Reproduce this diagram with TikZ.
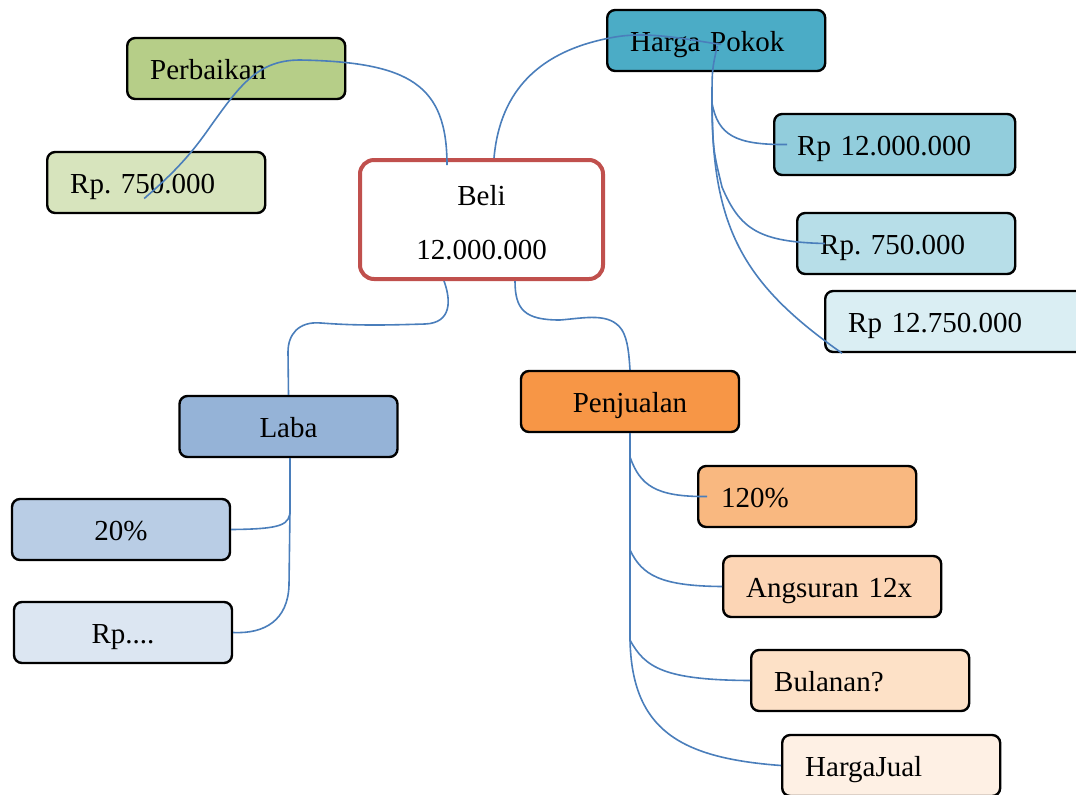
\documentclass[tikz,border=0pt]{standalone}
\usepackage{fontspec}
\setmainfont{Liberation Serif}
\usepackage{tikz}
\frenchspacing
\definecolor{linkblue}{HTML}{4A7EBB}
\definecolor{belired}{HTML}{C0504D}
\definecolor{perbgreen}{HTML}{B6CE88}
\definecolor{rpgreen}{HTML}{D7E4BD}
\definecolor{hpblue}{HTML}{4BACC6}
\definecolor{rpblueA}{HTML}{92CDDC}
\definecolor{rpblueB}{HTML}{B7DEE8}
\definecolor{rpblueC}{HTML}{DAEEF3}
\definecolor{labablue}{HTML}{95B3D7}
\definecolor{labablueA}{HTML}{B9CDE5}
\definecolor{labablueB}{HTML}{DCE6F2}
\definecolor{penjorange}{HTML}{F79646}
\definecolor{orangeA}{HTML}{F9B880}
\definecolor{orangeB}{HTML}{FCD5B5}
\definecolor{orangeC}{HTML}{FDE1C7}
\definecolor{orangeD}{HTML}{FEF0E4}

\tikzset{
  box/.style={draw=black,line width=1.2pt,rounded corners=4pt,
    minimum height=30.5pt,inner ysep=0pt,text height=12pt,text depth=1.5pt,
    font=\fontsize{14.5}{17}\selectfont},
  leftbox/.style={box,anchor=west,text width=#1,align=left,inner xsep=11.5pt},
  leftbox/.default=86pt,
  midbox/.style={box,minimum width=109pt,align=center},
  link/.style={linkblue,line width=.8pt},
}

\begin{document}
\begin{tikzpicture}[x=.5pt,y=-.5pt]
  \useasboundingbox (0,0) rectangle (1076,794);

  \node[draw=belired,line width=2pt,rounded corners=7pt,fill=white,
    minimum width=121.5pt,minimum height=59.5pt,align=center,text height=40pt,
    font=\fontsize{14.5}{17}\selectfont] (beli) at (481.5,219.5) {Beli\\[10pt]12.000.000};

  \node[leftbox,fill=perbgreen] (perb) at (126,68.5) {Perbaikan};
  \node[leftbox,fill=rpgreen] (rpkiri) at (46,182.5) {Rp. 750.000};

  \node[leftbox,fill=hpblue] (hpokok) at (606,40.5) {Harga Pokok};
  \node[leftbox=97.5pt,fill=rpblueA] (rp12) at (773,144.5) {Rp 12.000.000};
  \node[leftbox,fill=rpblueB] (rp750) at (796,243.5) {Rp. 750.000};
  \node[leftbox=110pt,fill=rpblueC] (rp1275) at (824,321.5) {Rp 12.750.000};

  \node[midbox,fill=labablue] (laba) at (288.5,426.5) {Laba};
  \node[midbox,fill=labablueA] (p20) at (121,529.5) {20\%};
  \node[midbox,fill=labablueB] (rpdots) at (123,632.5) {Rp....};

  \node[midbox,fill=penjorange] (penj) at (630,401.5) {Penjualan};
  \node[leftbox,fill=orangeA] (p120) at (697,496.5) {120\%};
  \node[leftbox,fill=orangeB] (angs) at (722,586.5) {Angsuran 12x};
  \node[leftbox,fill=orangeC] (bulan) at (750,680.5) {Bulanan?};
  \node[leftbox,fill=orangeD] (hjual) at (781,765.5) {HargaJual};

  % branch junctions
  \coordinate (hpA) at (712,103);
  \coordinate (hpB) at (722,187);
  \coordinate (lbA) at (290,510);
  \coordinate (pjA) at (630,457);
  \coordinate (pjB) at (630,550);
  \coordinate (pjC) at (630,640);

  % Beli -> Perbaikan -> Rp. 750.000
  \draw[link] ([xshift=-17.25pt,yshift=-3.5pt]beli.north)
    .. controls (447,85) and (410,62) .. (300,60)
    .. controls (258,60) and (240,85) .. (210,127)
    .. controls (192,153) and (175,172) .. ([xshift=-6pt,yshift=-8pt]rpkiri.center);

  % Beli -> Harga Pokok
  \draw[link] ([xshift=6.25pt]beli.north)
    .. controls (500,90) and (540,50) .. (615,37)
    .. controls (650,31) and (690,40) .. ([xshift=2.5pt,yshift=-2pt]hpokok.center);
  \draw[link] ([xshift=.5pt,yshift=-2.75pt]hpokok.center) .. controls (712,70) .. (hpA)
    .. controls (718,135) and (735,145) .. ([xshift=7pt]rp12.west);
  \draw[link] (hpA) .. controls (713,150) .. (hpB)
    .. controls (740,230) and (760,242) .. ([xshift=14.5pt]rp750.west);
  \draw[link] (hpA) .. controls (712,230) and (745,285) .. ([xshift=9pt]rp1275.south west);

  % Beli -> Laba
  \draw[link] ([xshift=-18.75pt]beli.south)
    .. controls (451,300) and (452,323) .. (425,324)
    .. controls (390,325) and (360,326) .. (321,323)
    .. controls (298,321) and (288,335) .. (288,352) -- (laba.north);
  \draw[link] ([xshift=.75pt]laba.south) -- (lbA)
    .. controls (290,525) and (282,529) .. (p20.east);
  \draw[link] (lbA) -- (289,585) .. controls (288,620) and (265,634) .. (rpdots.east);

  % Beli -> Penjualan
  \draw[link] ([xshift=16.75pt]beli.south)
    .. controls (515,310) and (525,320) .. (560,320)
    .. controls (585,318) and (610,312) .. (622,330)
    .. controls (628,340) and (629,355) .. (penj.north);
  \draw[link] (penj.south) -- (pjA)
    .. controls (640,485) and (655,497) .. ([xshift=5pt]p120.west);
  \draw[link] (pjA) -- (pjB) .. controls (642,575) and (660,586) .. (angs.west);
  \draw[link] (pjB) -- (pjC) .. controls (645,668) and (665,680) .. (bulan.west);
  \draw[link] (pjC) .. controls (632,730) and (680,758) .. (hjual.west);
\end{tikzpicture}
\end{document}
